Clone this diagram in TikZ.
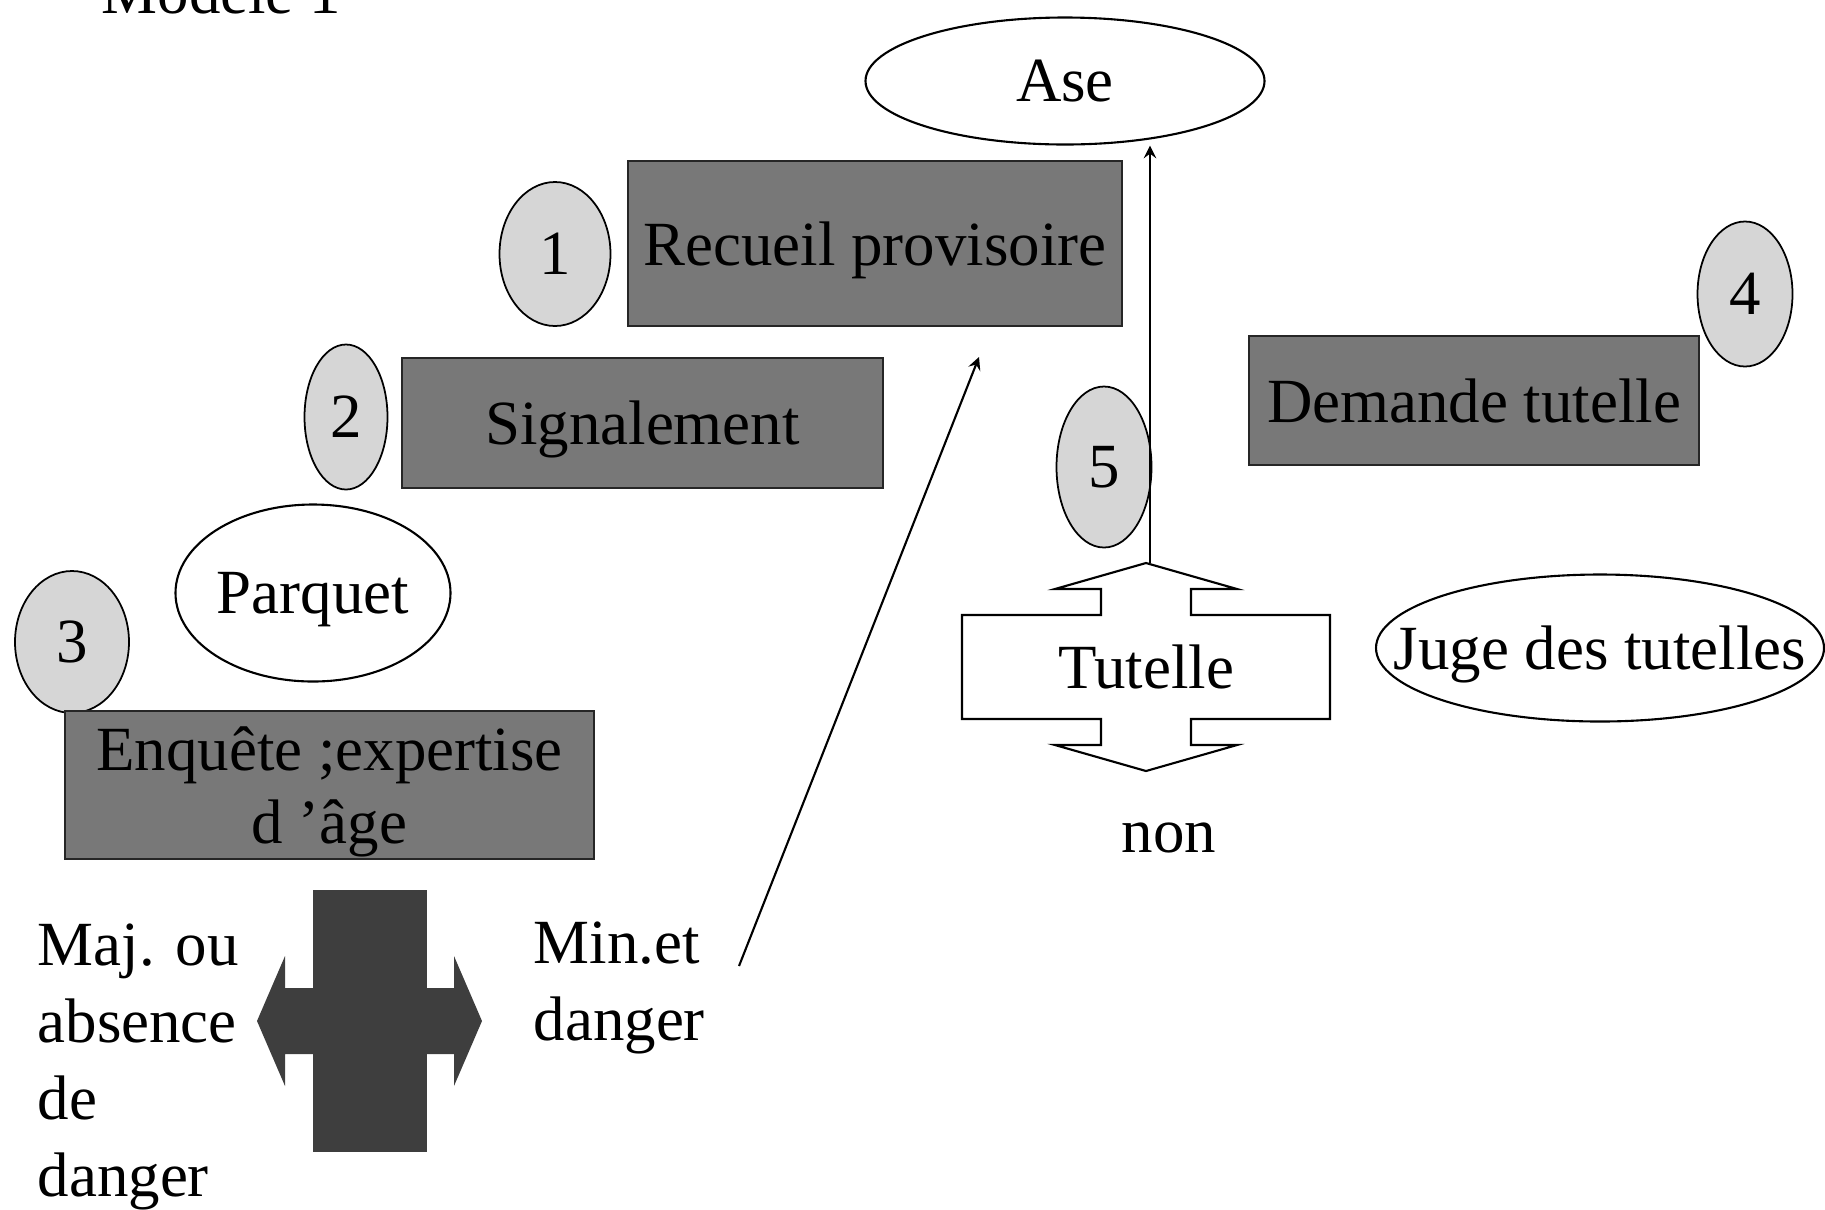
\documentclass[tikz,border=0pt]{standalone}
\usepackage{fontspec}
\setmainfont{Liberation Serif}
\usepackage{tikz}
\usetikzlibrary{shapes.geometric}
\usetikzlibrary{calc}

\definecolor{grisboite}{HTML}{787878}
\definecolor{grisrond}{HTML}{D6D6D6}
\definecolor{grisfonce}{HTML}{3E3E3E}

\tikzset{
  texte/.style={font=\fontsize{17.9}{20.2}\selectfont, inner sep=0pt, text depth=0pt},
  boite/.style={texte, rectangle, draw=black!85, fill=grisboite, line width=0.6pt, align=center},
  rond/.style={texte, ellipse, draw, fill=grisrond, line width=0.5pt},
  ovale/.style={ellipse, draw, fill=white, line width=0.6pt, inner sep=0pt},
  colonne/.style={texte, align=left, font=\fontsize{17.9}{21.9}\selectfont},
}

\begin{document}
\begin{tikzpicture}

          \useasboundingbox (0,0) rectangle (18.25,-12.09); %枠
          \node[texte, anchor=base west] (modele) at (1.01,-0.13) {Modèle 1}; %題（上が切れる）

          \node[ovale, minimum width=3.99cm, minimum height=1.27cm, label={[texte]center:Ase}] (ase) at (10.65,-0.81) {}; %Ase
          \node[boite, minimum width=4.94cm, minimum height=1.65cm] (recueil) at (8.75,-2.435) {Recueil provisoire}; %1
          \node[rond, minimum width=1.11cm, minimum height=1.44cm] (un) at (5.55,-2.54) {1}; %丸1
          \node[boite, minimum width=4.81cm, minimum height=1.30cm] (signal) at (6.425,-4.23) {Signalement}; %2
          \node[rond, minimum width=0.83cm, minimum height=1.45cm] (deux) at (3.46,-4.17) {2}; %丸2
          \node[ovale, minimum width=2.75cm, minimum height=1.77cm, label={[texte]center:Parquet}] (parquet) at (3.13,-5.93) {}; %Parquet
          \node[rond, minimum width=1.14cm, minimum height=1.42cm] (trois) at (0.72,-6.42) {3}; %丸3
          \node[boite, minimum width=5.29cm, minimum height=1.48cm, font=\fontsize{17.9}{21}\selectfont] (enquete) at (3.295,-7.85) {Enquête ;expertise\\d ’âge}; %3
          \node[boite, minimum width=4.50cm, minimum height=1.29cm] (demande) at (14.74,-4.005) {Demande tutelle}; %4
          \node[rond, minimum width=0.95cm, minimum height=1.45cm] (quatre) at (17.45,-2.94) {4}; %丸4
          \node[rond, minimum width=0.95cm, minimum height=1.61cm] (cinq) at (11.04,-4.67) {5}; %丸5
          \node[ovale, minimum width=4.48cm, minimum height=1.47cm, label={[texte]center:Juge des tutelles}] (juge) at (16.00,-6.48) {}; %判事

          \coordinate (tut) at (11.46,-6.67); %Tutelle中心
          \draw[line width=0.6pt, fill=white, shift={(tut)}] (-1.84,0.52) -- (-0.45,0.52) -- (-0.45,0.78) -- (-0.91,0.78) -- (0,1.04) -- (0.91,0.78) -- (0.45,0.78) -- (0.45,0.52) -- (1.84,0.52) -- (1.84,-0.52) -- (0.45,-0.52) -- (0.45,-0.78) -- (0.91,-0.78) -- (0,-1.04) -- (-0.91,-0.78) -- (-0.45,-0.78) -- (-0.45,-0.52) -- (-1.84,-0.52) -- cycle; %上下矢印
          \node[texte] (tutelle) at (tut) {Tutelle}; %Tutelle
          \coordinate (tuthaut) at ($(tut)+(0.04,1.04)$); %上の先
          \node[texte, anchor=base] (non) at (11.69,-8.52) {non}; %non

          \coordinate (croix) at (3.70,-10.21); %十字中心
          \fill[grisfonce, shift={(croix)}] (-0.57,1.31) rectangle (0.57,-1.31); %縦棒
          \fill[grisfonce, shift={(croix)}] (-1.13,0) -- (-0.85,0.65) -- (-0.85,0.33) -- (0.84,0.33) -- (0.84,0.65) -- (1.12,0) -- (0.84,-0.65) -- (0.84,-0.33) -- (-0.85,-0.33) -- (-0.85,-0.65) -- cycle; %左右矢印
          \node[colonne, anchor=north west] (maj) at (0.37,-9.23) {Maj. ou\\absence\\de\\danger}; %左
          \node[colonne, anchor=north west] (min) at (5.33,-9.21) {Min.et\\danger}; %右

          \coordinate (depart) at (7.39,-9.66); %斜め矢印の元
          \coordinate (arrivee) at (9.79,-3.57); %斜め矢印の先
          \draw[semithick,->,>=stealth] (depart)--(arrivee); %斜め矢印
          \draw[semithick,->,>=stealth] (tuthaut)--(tuthaut |- ase.south); %Aseへ

        \end{tikzpicture}
\end{document}
